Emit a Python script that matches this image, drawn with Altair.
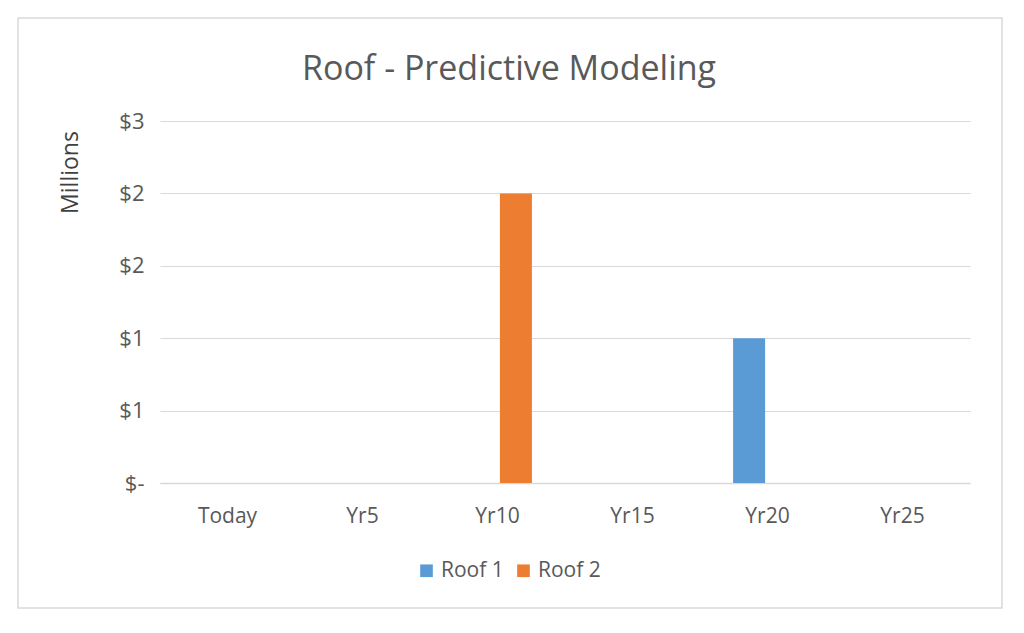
import altair as alt
import pandas as pd

categories = ["Today", "Yr5", "Yr10", "Yr15", "Yr20", "Yr25"]
roof1 = [0, 0, 0, 0, 1.0, 0]
roof2 = [0, 0, 2.0, 0, 0, 0]
series_names = ["Roof 1", "Roof 2"]
colors = ["#5B9BD5", "#ED7D31"]

rows = []
for i, c in enumerate(categories):
    rows.append({"cat": c, "series": "Roof 1", "value": roof1[i]})
    rows.append({"cat": c, "series": "Roof 2", "value": roof2[i]})
df = pd.DataFrame(rows)

FONT = "Open Sans"
TXT = "#595959"

bars = alt.Chart(df).mark_bar().encode(
    x=alt.X("cat:N", sort=categories,
            scale=alt.Scale(paddingInner=0.49, paddingOuter=0.245),
            axis=alt.Axis(title=None, labelAngle=0, labelFontSize=21, labelColor=TXT,
                          labelFont=FONT, labelPadding=22, ticks=False, domainColor="#D9D9D9",
                          domainWidth=1.5, grid=False)),
    xOffset=alt.XOffset("series:N", sort=series_names,
                        scale=alt.Scale(paddingInner=0.13, paddingOuter=0)),
    y=alt.Y("value:Q", scale=alt.Scale(domain=[0, 2.5], nice=False),
            axis=alt.Axis(values=[0, 0.5, 1, 1.5, 2, 2.5],
                          labelExpr="datum.value == 0 ? '$-' : '$' + round(datum.value)",
                          labelFontSize=22, labelColor=TXT, labelFont=FONT, labelPadding=16,
                          ticks=False, domain=False, gridColor="#D9D9D9", gridWidth=1.2,
                          title="Millions", titleFont=FONT, titleFontSize=23, titleColor="#404040",
                          titleFontWeight="normal", titleX=-90, titleY=51, titleAlign="center",
                          titleBaseline="middle", titleAngle=270)),
    color=alt.Color("series:N", sort=series_names,
                    scale=alt.Scale(domain=series_names, range=colors),
                    legend=alt.Legend(title=None, orient="none", direction="horizontal",
                                      legendX=256, legendY=439, symbolType="square",
                                      symbolSize=160, symbolStrokeWidth=0, labelFontSize=21,
                                      labelFont=FONT, labelColor=TXT, columnPadding=9,
                                      labelOffset=4)),
)

frame = alt.Chart(pd.DataFrame({"a": [0]})).mark_rect(
    fill=None, stroke="#D9D9D9", strokeWidth=1.5
).encode(x=alt.value(-142), x2=alt.value(842), y=alt.value(-103), y2=alt.value(487))

chart = alt.layer(frame, bars).properties(
    width=810, height=362,
    background="white",
    autosize=alt.AutoSizeParams(type="none"),
    padding={"left": 152, "top": 113, "right": 46, "bottom": 142},
    title=alt.TitleParams("Roof - Predictive Modeling", font=FONT, fontSize=34,
                          fontWeight="normal", color=TXT, anchor="middle", dx=-56,
                          offset=0, dy=70),
).configure_view(stroke="transparent", strokeWidth=0)

chart.save("out.html", embed_options={"renderer": "svg", "actions": False})
